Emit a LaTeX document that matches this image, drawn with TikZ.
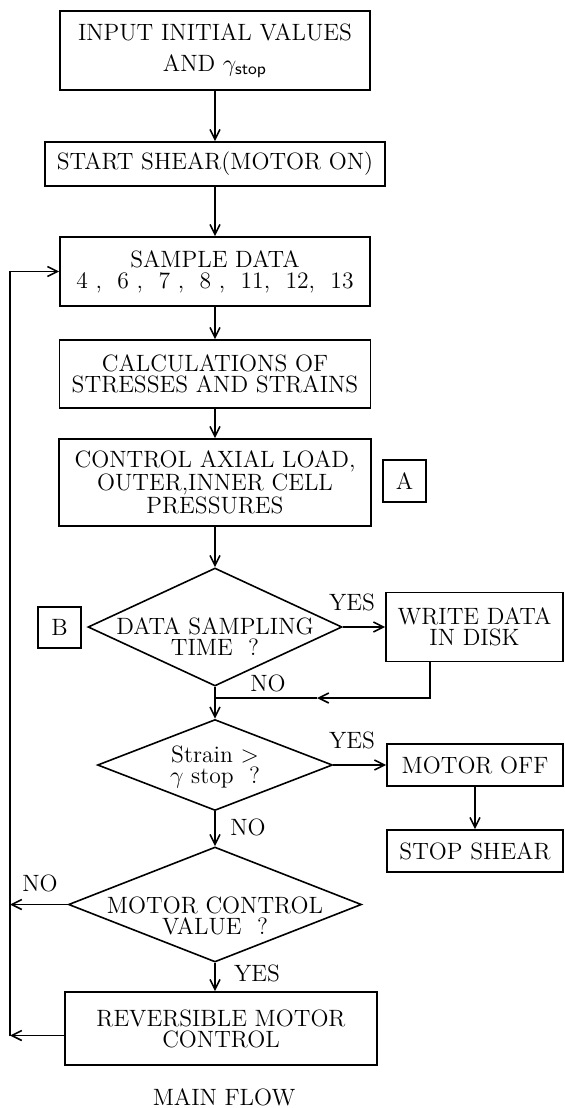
\documentclass[tikz,border=0pt]{standalone}
\usepackage{amsmath}
\usetikzlibrary{shapes.geometric,arrows.meta,calc}

\tikzset{
  flowbox/.style={draw, line width=0.8pt, align=center, inner sep=0pt},
  decide/.style={draw, diamond, line width=0.8pt, inner sep=0pt},
  flowline/.style={line width=0.8pt, -{Straight Barb[length=5pt,width=5pt]}},
  plainline/.style={line width=0.8pt},
}

\begin{document}
\begin{tikzpicture}[x=0.5pt,y=-0.5pt,
    every node/.style={font=\fontsize{11.8}{10.5}\selectfont}]
  \useasboundingbox (0,0) rectangle (565,1108);

  % main column
  \node[flowbox, minimum width=155pt, minimum height=39.5pt] (input) at (215,50.5)
    {INPUT INITIAL VALUES\\[5pt] AND $\gamma_{\textsf{stop}}$};
  \node[flowbox, minimum width=170pt, minimum height=22pt] (start) at (215,164)
    {START SHEAR(MOTOR ON)};
  \node[flowbox, minimum width=155pt, minimum height=34.5pt] (sample) at (215,271.5)
    {SAMPLE DATA\\ 4\ ,\ \ 6\ ,\ \ 7\ ,\ \ 8\ ,\ \ 11,\ \ 12,\ \ 13};
  \node[flowbox, minimum width=155.5pt, minimum height=34pt] (calc) at (215,374)
    {CALCULATIONS OF\\ STRESSES AND STRAINS};
  \node[flowbox, minimum width=156pt, minimum height=43.5pt] (ctrl) at (215,482.5)
    {CONTROL AXIAL LOAD,\\ OUTER,INNER CELL\\ PRESSURES};
  \node[flowbox, minimum width=21.5pt, minimum height=21pt] (boxa) at (404.5,481) {A};

  \node[decide, minimum width=127pt, minimum height=59pt,
    label={[align=center,yshift=-5pt]center:DATA SAMPLING\\ TIME\ \ ?}] (dsamp) at (215,627) {};
  \node[flowbox, minimum width=21.5pt, minimum height=20.5pt] (boxb) at (59.5,627.5) {B};
  \node[flowbox, minimum width=88.5pt, minimum height=34.5pt] (write) at (474.5,627)
    {WRITE DATA\\ IN DISK};

  \node[decide, minimum width=117.5pt, minimum height=45.5pt,
    label={[align=center,yshift=-1pt]center:Strain\ $>$\\ $\gamma$ stop\ \ ?}] (strain) at (215,765) {};
  \node[flowbox, minimum width=88pt, minimum height=21pt] (motoroff) at (475,765)
    {MOTOR OFF};
  \node[flowbox, minimum width=88pt, minimum height=21pt] (stopshear) at (475,851)
    {STOP SHEAR};

  \node[decide, minimum width=146.5pt, minimum height=57.5pt,
    label={[align=center,yshift=-5.5pt]center:MOTOR CONTROL\\ VALUE\ \ ?}] (mctl) at (215,904.5) {};
  \node[flowbox, minimum width=156pt, minimum height=36.5pt] (rev) at (221,1028.5)
    {REVERSIBLE MOTOR\\ CONTROL};

  % labels
  \node (yes1) at (352,602) {YES};
  \node (no1) at (268,683) {NO};
  \node (yes2) at (352,740) {YES};
  \node (no2) at (248,827) {NO};
  \node (no3) at (40,883) {NO};
  \node (yes3) at (257,973) {YES};
  \node (title) at (224,1097) {MAIN FLOW};

  \coordinate (junc) at (215,698);
  \coordinate (wmid) at (317,698);
  \coordinate (lp) at (10,0);

  \draw[flowline] (input) -- (start);
  \draw[flowline] (start) -- (sample);
  \draw[flowline] (sample) -- (calc);
  \draw[flowline] (calc) -- (ctrl);
  \draw[flowline] (ctrl) -- (dsamp);
  \draw[flowline] (dsamp.east) -- (write.west);
  \draw[flowline] ([xshift=22.5pt]write.south west) |- (wmid);
  \draw[plainline] (wmid) -- (junc);
  \draw[flowline] (dsamp.south) -- (strain.north);
  \draw[flowline] (strain.east) -- (motoroff.west);
  \draw[flowline] (motoroff) -- (stopshear);
  \draw[flowline] (strain.south) -- (mctl.north);
  \draw[flowline] (mctl.south) -- (mctl.south |- rev.north);
  % loop back
  \draw[flowline] (mctl.west) -- (mctl.west -| lp);
  \draw[flowline] ([yshift=-3.5pt]rev.west) -- ([yshift=-3.5pt]rev.west -| lp);
  \draw[flowline] ([yshift=-3.5pt]rev.west -| lp) -- (sample.west -| lp) -- (sample.west);
\end{tikzpicture}
\end{document}
